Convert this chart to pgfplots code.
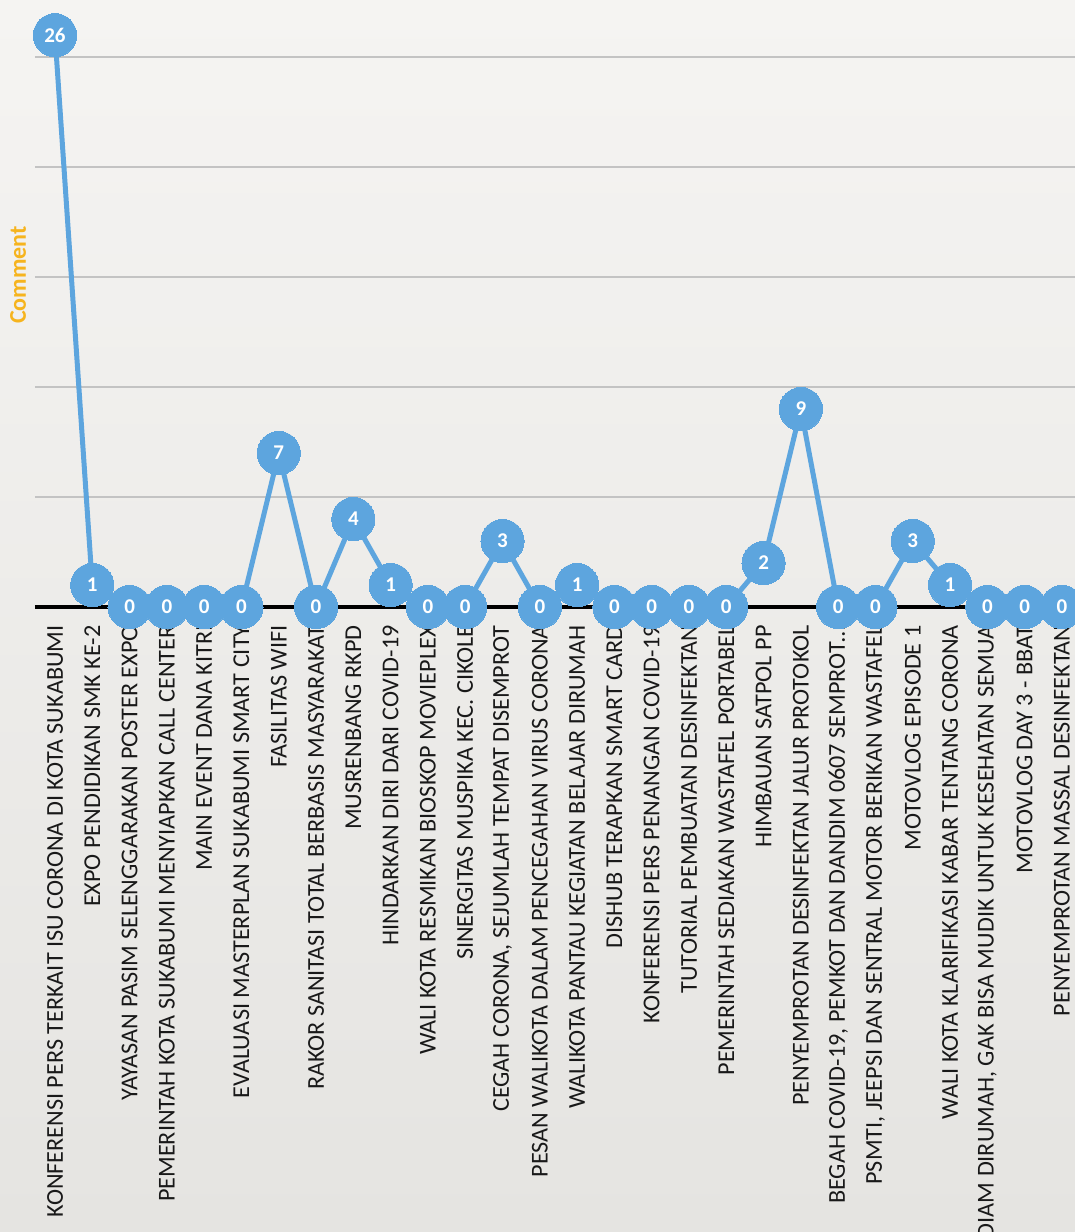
\documentclass[border=0pt]{standalone}
\usepackage{fontspec}
\setmainfont{Carlito}
\usepackage{pgfplots}
\pgfplotsset{compat=1.18}
\definecolor{lineblue}{RGB}{93,165,222}
\definecolor{gridgray}{RGB}{195,195,195}
\definecolor{cmtorange}{RGB}{246,180,30}
\definecolor{bgtop}{RGB}{245,244,242}
\definecolor{bgbot}{RGB}{229,228,225}
\definecolor{labtext}{RGB}{25,25,25}
\begin{document}
\begin{tikzpicture}
\useasboundingbox (-17.5pt,-312.5pt) rectangle (520pt,303.5pt);
\clip (-17.5pt,-312.5pt) rectangle (520pt,303.5pt);
\shade[top color=bgtop, bottom color=bgbot] (-17.5pt,-312.5pt) rectangle (520pt,303.5pt);
\begin{axis}[
  scale only axis, width=520pt, height=303.5pt,
  at={(0pt,0pt)}, anchor=south west,
  xmin=-0.536, xmax=27.35, ymin=0, ymax=27.6,
  /pgf/number format/assume math mode=true,
  axis line style={draw=none},
  ytick={5,10,15,20,25}, yticklabels={},
  ymajorgrids, grid style={gridgray, line width=0.75pt},
  extra y ticks={0}, extra y tick labels={},
  extra y tick style={grid style={black, line width=1.9pt}},
  xtick={0,...,27},
  xticklabels={
    KONFERENSI PERS TERKAIT ISU CORONA DI KOTA SUKABUMI,
    EXPO PENDIDIKAN SMK KE-2,
    YAYASAN PASIM SELENGGARAKAN POSTER EXPO,
    PEMERINTAH KOTA SUKABUMI MENYIAPKAN CALL CENTER,
    MAIN EVENT DANA KITRI,
    EVALUASI MASTERPLAN SUKABUMI SMART CITY,
    FASILITAS WIFI,
    RAKOR SANITASI TOTAL BERBASIS MASYARAKAT,
    MUSRENBANG RKPD,
    HINDARKAN DIRI DARI COVID-19,
    WALI KOTA RESMIKAN BIOSKOP MOVIEPLEX,
    SINERGITAS MUSPIKA KEC. CIKOLE,
    {CEGAH CORONA, SEJUMLAH TEMPAT DISEMPROT},
    PESAN WALIKOTA DALAM PENCEGAHAN VIRUS CORONA,
    WALIKOTA PANTAU KEGIATAN BELAJAR DIRUMAH,
    DISHUB TERAPKAN SMART CARD,
    KONFERENSI PERS PENANGAN COVID-19,
    TUTORIAL PEMBUATAN DESINFEKTAN,
    PEMERINTAH SEDIAKAN WASTAFEL PORTABEL,
    HIMBAUAN SATPOL PP,
    PENYEMPROTAN DESINFEKTAN JALUR PROTOKOL,
    {BEGAH COVID-19, PEMKOT DAN DANDIM 0607 SEMPROT\ldots},
    {PSMTI, JEEPSI DAN SENTRAL MOTOR BERIKAN WASTAFEL},
    MOTOVLOG EPISODE 1,
    WALI KOTA KLARIFIKASI KABAR TENTANG CORONA,
    {DIAM DIRUMAH, GAK BISA MUDIK UNTUK KESEHATAN SEMUA},
    MOTOVLOG DAY 3 - BBAT,
    PENYEMPROTAN MASSAL DESINFEKTAN},
  major tick length=0pt,
  xticklabel shift=9pt,
  xticklabel style={rotate=90, anchor=east, inner sep=0pt,
    font=\fontsize{12.1}{12}\selectfont, text=labtext},
  ylabel={Comment},
  ylabel style={at={(axis description cs:-0.0163,0.547)}, anchor=center,
    font=\bfseries\fontsize{12}{12}\selectfont, text=cmtorange},
  clip=false,
  nodes near coords,
  nodes near coords align={center},
  every node near coord/.append style={anchor=center, text=white,
    font=\bfseries\fontsize{10.5}{10.5}\selectfont},
]
\addplot[lineblue, line width=2.5pt, mark=*, mark size=10.8pt,
  mark options={fill=lineblue, draw=lineblue, line width=0pt}]
  coordinates {
  (0,26) (1,1) (2,0) (3,0) (4,0) (5,0) (6,7) (7,0) (8,4) (9,1)
  (10,0) (11,0) (12,3) (13,0) (14,1) (15,0) (16,0) (17,0) (18,0) (19,2)
  (20,9) (21,0) (22,0) (23,3) (24,1) (25,0) (26,0) (27,0)
  };
\end{axis}
\end{tikzpicture}
\end{document}
